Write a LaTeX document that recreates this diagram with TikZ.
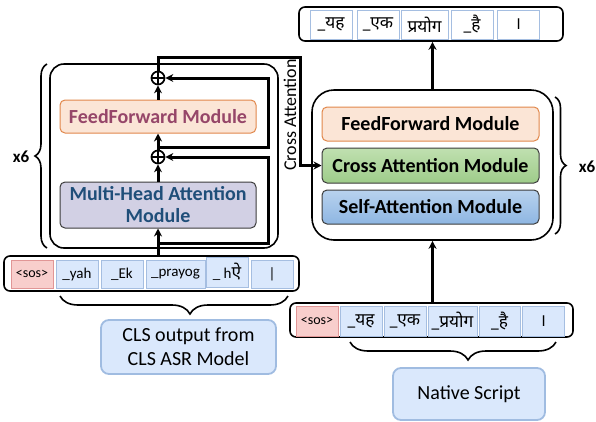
\documentclass[tikz,border=0pt]{standalone}
\usepackage{fontspec}
\setmainfont{Carlito}
\newfontfamily\hindifont[Script=Devanagari, Scale=1.15]{Noto Sans}
\usetikzlibrary{arrows.meta, calc, decorations.pathreplacing, positioning}

\definecolor{ffFill}{RGB}{251,229,214}
\definecolor{ffLine}{RGB}{225,135,75}
\definecolor{ffText}{RGB}{150,70,105}
\definecolor{mhaFill}{RGB}{210,208,228}
\definecolor{mhaText}{RGB}{31,78,121}
\definecolor{tokFill}{RGB}{218,232,252}
\definecolor{tokLine}{RGB}{165,190,225}
\definecolor{sosFill}{RGB}{248,206,204}
\definecolor{sosLine}{RGB}{225,150,150}
\definecolor{caTop}{RGB}{192,224,176}
\definecolor{caBot}{RGB}{158,204,138}
\definecolor{saTop}{RGB}{184,210,238}
\definecolor{saBot}{RGB}{142,182,226}
\definecolor{boxLine}{RGB}{60,60,60}
\definecolor{noteLine}{RGB}{160,188,225}

\begin{document}
\begin{tikzpicture}[x=1pt, y=-1pt, >={Stealth[length=8pt, width=8pt]},
            conn/.style={line width=3pt},
            outer box/.style={draw, line width=1.6pt, inner sep=0pt},
            module/.style={rounded corners=5pt, line width=1pt, inner sep=0pt, align=center,
                font=\bfseries\fontsize{20}{22}\selectfont},
            tok/.style={draw=tokLine, fill=tokFill, line width=0.9pt, inner sep=0pt,
                minimum width=42pt, font=\fontsize{15}{17}\selectfont},
            sos tok/.style={tok, draw=sosLine, fill=sosFill, font=\fontsize{14}{16}\selectfont},
            note/.style={draw=noteLine, fill=tokFill, line width=1.8pt, rounded corners=8pt,
                inner sep=0pt, align=center, font=\fontsize{20}{24}\selectfont},
            plus node/.style={circle, draw, line width=1.7pt, minimum size=13pt, inner sep=0pt},
            brace/.style={decorate, line width=1.6pt}
            ]
            \useasboundingbox (0,0) rectangle (596,421);

            % encoder side
            \node[outer box, rounded corners=14pt, minimum width=228pt, minimum height=184pt] (encL) at (164,156) {};
            \node[module, draw=ffLine, fill=ffFill, text=ffText, minimum width=196pt, minimum height=33pt] (ffL) at (158,116.5) {FeedForward Module};
            \node[module, draw=boxLine, fill=mhaFill, text=mhaText, minimum width=196pt, minimum height=46pt] (mhaL) at (158,205) {Multi-Head Attention\\Module};
            \node[plus node] (plusT) at (158,78) {};
            \node[plus node] (plusB) at (158,157) {};
            \draw[line width=1.3pt] (plusT.north) -- (plusT.south) (plusT.west) -- (plusT.east);
            \draw[line width=1.3pt] (plusB.north) -- (plusB.south) (plusB.west) -- (plusB.east);

            \draw[brace, decoration={brace, amplitude=12pt}] (47,248) -- (47,64);
            \node[font=\bfseries\fontsize{17}{19}\selectfont] (repL) at (21,157) {x6};

            % decoder side
            \node[outer box, rounded corners=22pt, minimum width=241pt, minimum height=150pt] (decR) at (432.5,165) {};
            \node[module, draw=ffLine, fill=ffFill, minimum width=217pt, minimum height=34pt] (ffR) at (430.5,124) {FeedForward Module};
            \node[module, draw=boxLine, top color=caTop, bottom color=caBot, minimum width=217pt, minimum height=35pt] (caR) at (430.5,165.5) {Cross Attention Module};
            \node[module, draw=boxLine, top color=saTop, bottom color=saBot, minimum width=217pt, minimum height=34pt] (saR) at (430.5,207) {Self-Attention Module};

            \draw[brace, decoration={brace, amplitude=11pt}] (555,97) -- (555,234);
            \node[font=\bfseries\fontsize{17}{19}\selectfont] (repR) at (587,167) {x6};

            % token rows
            \node[outer box, rounded corners=6pt, minimum width=295pt, minimum height=35pt] (rowL) at (151.5,273.5) {};
            \node[sos tok, minimum height=28pt] (sosL) at (32,274) {<sos>};
            \node[tok, minimum height=28pt] (yahL) at (77,274) {\_yah};
            \node[tok, minimum height=28pt] (ekL) at (122,274) {\_Ek};
            \node[tok, minimum height=28pt, minimum width=59pt] (prayogL) at (175.5,274) {\_prayog};
            \node[tok, minimum height=30pt] (haiL) at (227,272) {\_ h{\hindifont ऐ}};
            \node[tok, minimum height=28pt] (dandaL) at (272,274) {|};

            \node[outer box, rounded corners=6pt, minimum width=283pt, minimum height=34pt] (rowIn) at (431.5,320) {};
            \node[sos tok, minimum height=30pt] (sosR) at (317,321) {<sos>};
            \node[tok, minimum height=30pt] (yahR) at (361,321) {\hindifont\_यह};
            \node[tok, minimum height=30pt] (ekR) at (405,321) {\hindifont\_एक};
            \node[tok, minimum height=30pt, minimum width=49pt] (prayogR) at (452.5,321) {\hindifont\_प्रयोग};
            \node[tok, minimum height=30pt, minimum width=41pt] (haiR) at (499.5,321) {\hindifont\_है};
            \node[tok, minimum height=30pt] (dandaR) at (543,321) {\hindifont ।};

            \node[outer box, rounded corners=6pt, minimum width=264pt, minimum height=34pt] (rowOut) at (431,24) {};
            \node[tok, fill=white, minimum height=29pt] (yahO) at (331,24.5) {\hindifont\_यह};
            \node[tok, fill=white, minimum height=29pt] (ekO) at (378,24.5) {\hindifont\_एक};
            \node[tok, fill=white, minimum height=29pt, minimum width=47pt] (prayogO) at (424.5,24.5) {\hindifont प्रयोग};
            \node[tok, fill=white, minimum height=29pt] (haiO) at (472,24.5) {\hindifont\_है};
            \node[tok, fill=white, minimum height=29pt] (dandaO) at (518,24.5) {\hindifont ।};

            % braces and notes under the rows
            \draw[brace, decoration={brace, mirror, amplitude=18pt, aspect=0.57}] (60,296) -- (288,296);
            \node[note, minimum width=175pt, minimum height=54pt] (clsNote) at (188.5,347) {CLS output from\\CLS ASR Model};
            \draw[brace, decoration={brace, mirror, amplitude=18pt, aspect=0.573}] (350,342) -- (556,342);
            \node[note, minimum width=152pt, minimum height=52pt] (nativeNote) at (469,394) {Native Script};

            % connectors
            \coordinate (resA) at (158,243);
            \coordinate (resB) at (158,147);
            \coordinate (resX) at (268,0);
            \coordinate (crossTop) at (300,57);

            \draw[conn, ->] (mhaL.south |- rowL.north) -- (mhaL.south);
            \draw[conn, ->] (mhaL.north) -- (plusB.south);
            \draw[conn, ->] (plusB.north) -- (ffL.south);
            \draw[conn, ->] (ffL.north) -- (plusT.south);
            \draw[conn, ->] (resA) -- (resA -| resX) |- (plusB.east);
            \draw[conn, ->] (resB) -- (resB -| resX) |- (plusT.east);
            \draw[conn, ->] (plusT.north) |- (crossTop) |- (caR.west);
            \node[rotate=90, font=\fontsize{18}{20}\selectfont] (crossLbl) at (290,115) {Cross Attention};

            \draw[conn, ->] (decR.south |- rowIn.north) -- (decR.south);
            \draw[conn, ->] (decR.north) -- (decR.north |- rowOut.south);
        \end{tikzpicture}
\end{document}
